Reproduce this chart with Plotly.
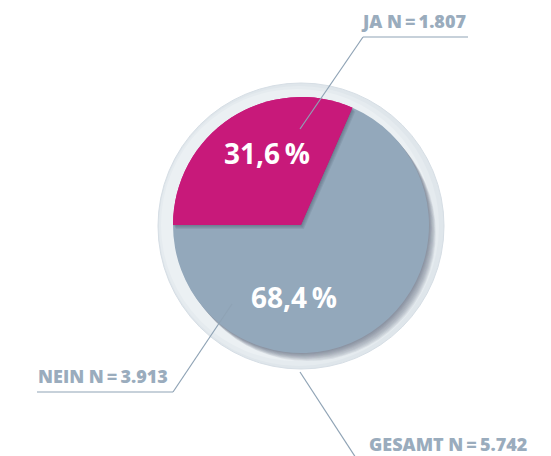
import plotly.graph_objects as go

# ---- data ----
categories = ["JA", "NEIN"]
counts = [1807, 3913]
total_label = "GESAMT"
total_n = 5742
slice_colors = ["#c8197a", "#93a8bb"]

# ---- helpers ----
W, H = 551, 456
CX, CY, R = 301, 225, 128          # pie centre / radius in pixels
RING_R = 143
THIN = "\u2009"

def px(x):
    return x / W

def py(y):
    return 1 - y / H

def fmt_n(n):
    return f"{n:,}".replace(",", ".")

def fmt_pct(share):
    return f"{share * 100:.1f}".replace(".", ",") + THIN + "%"

def n_label(name, n):
    return f"{name} N{THIN}={THIN}{fmt_n(n)}"

def domain(dx=0.0, dy=0.0):
    return dict(x=[px(CX + dx - R), px(CX + dx + R)],
                y=[py(CY + dy + R), py(CY + dy - R)])

shares = [c / sum(counts) for c in counts]

pie_common = dict(labels=categories, values=counts, sort=False,
                  direction="clockwise", rotation=-90, textinfo="none",
                  hoverinfo="skip", showlegend=False,
                  marker_line_width=0)

fig = go.Figure()

# base pie
fig.add_trace(go.Pie(domain=domain(), marker_colors=slice_colors, **pie_common))

# soft shadow cast by the JA wedge onto the NEIN slice
for k in (1.0, 2.0, 3.0, 4.0):
    fig.add_trace(go.Pie(domain=domain(0.7 * k, 1.0 * k),
                         marker_colors=["rgba(45,60,80,0.10)", "rgba(0,0,0,0)"],
                         **pie_common))

# JA wedge drawn on top of its shadow
fig.add_trace(go.Pie(domain=domain(),
                     marker_colors=[slice_colors[0], "rgba(0,0,0,0)"],
                     **pie_common))

shapes = []

def circle(cx, cy, r, fill, line_color=None, line_width=0):
    return dict(type="circle", xref="paper", yref="paper", layer="below",
                x0=px(cx - r), x1=px(cx + r), y0=py(cy + r), y1=py(cy - r),
                fillcolor=fill,
                line=dict(color=line_color or fill, width=line_width))

# outer ring with a gentle left-to-right shading
shapes.append(circle(CX, CY + 1, RING_R, "#dfe6eb", "#d6dee5", 1))
shapes.append(circle(CX - 2, CY + 1, RING_R - 3, "#e5ebef"))
shapes.append(circle(CX - 4, CY, RING_R - 7, "#ebf0f3"))

# drop shadow of the whole pie on the ring
for k in range(1, 10):
    shapes.append(circle(CX + 0.75 * k, CY + 0.9 * k, R, "rgba(70,85,100,0.085)"))

# leader lines
line_style = dict(color="#8fa3b5", width=1.2)
def seg(x0, y0, x1, y1):
    return dict(type="line", xref="paper", yref="paper", layer="above",
                x0=px(x0), y0=py(y0), x1=px(x1), y1=py(y1), line=line_style)

shapes += [
    seg(300, 129, 363, 37), seg(363, 37, 468, 37),      # JA
    seg(232, 304, 173, 392), seg(173, 392, 37, 392),    # NEIN
    seg(300, 372, 356, 458),                            # GESAMT
]

label_font = dict(family="Open Sans", size=18, color="#9aacbd", weight=800)
pct_font = dict(family="Open Sans", size=28, color="#ffffff", weight="bold")

annotations = [
    # percentages inside the slices
    dict(x=px(267), y=py(153), text=fmt_pct(shares[0]), font=pct_font),
    dict(x=px(294), y=py(297), text=fmt_pct(shares[1]), font=pct_font),
    # category labels
    dict(x=px(468), y=py(21), xanchor="right",
         text=n_label(categories[0], counts[0]), font=label_font),
    dict(x=px(36), y=py(376), xanchor="left",
         text=n_label(categories[1], counts[1]), font=label_font),
    dict(x=px(367), y=py(444), xanchor="left",
         text=n_label(total_label, total_n), font=label_font),
]
for a in annotations:
    a.update(xref="paper", yref="paper", showarrow=False)
    a.setdefault("xanchor", "center")
    a.setdefault("yanchor", "middle")

fig.update_layout(width=W, height=H, margin=dict(l=0, r=0, t=0, b=0),
                  paper_bgcolor="white", plot_bgcolor="white",
                  showlegend=False, shapes=shapes, annotations=annotations)

fig.write_html("out.html")
